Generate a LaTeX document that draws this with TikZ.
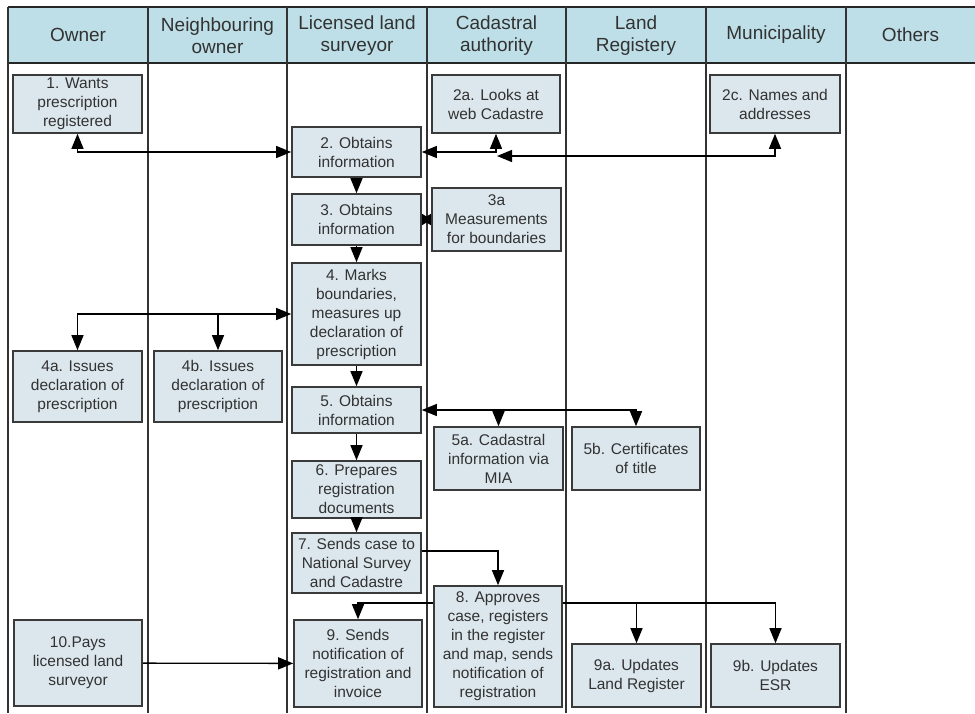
\documentclass[tikz,border=0pt]{standalone}
\usepackage{fontspec}
\setmainfont{Liberation Sans}
\usetikzlibrary{arrows.meta}
\definecolor{headfill}{RGB}{190,223,231}
\definecolor{boxfill}{RGB}{220,231,237}
\definecolor{boxline}{RGB}{58,58,58}
\definecolor{inkgray}{RGB}{50,50,50}
\begin{document}
\begin{tikzpicture}[x=1pt,y=-1pt,
  stepbox/.style={draw=boxline,fill=boxfill,line width=1.6pt,inner sep=0pt,
    align=center,text=inkgray,font=\fontsize{15.5}{19}\selectfont},
  headlabel/.style={align=center,text=inkgray,font=\fontsize{19}{22}\selectfont},
  laneline/.style={draw=black!80,line width=1.3pt},
  link/.style={draw=black,line width=1.3pt,-{Triangle[length=15pt,width=12pt]}},
  twolink/.style={draw=black,line width=1.3pt,{Triangle[length=15pt,width=12pt]}-{Triangle[length=15pt,width=12pt]}}]
\useasboundingbox (0,0) rectangle (975,713);
\fill[white] (0,0) rectangle (975,713);

% header band
\fill[headfill] (8,7) rectangle (975,63);
\draw[line width=2pt,black!85] (8,7) -- (975,7);
\draw[line width=1.6pt,black!85] (8,63) -- (975,63);

% swim lane separators
\foreach \x in {8,148,287,427,566,706,846}
  \draw[laneline] (\x,7) -- (\x,713);

% lane titles
\node[headlabel] (hOwner) at (78,35) {Owner};
\node[headlabel] (hNeigh) at (217.5,36) {Neighbouring\\owner};
\node[headlabel] (hSurv) at (357,36) {Licensed land\\surveyor};
\node[headlabel] (hCad) at (496.5,36) {Cadastral\\authority};
\node[headlabel] (hReg) at (636,36) {Land\\Registery};
\node[headlabel] (hMun) at (776,35) {Municipality};
\node[headlabel] (hOth) at (910.5,35) {Others};

% process steps
\node[stepbox,minimum width=129pt,minimum height=58pt] (b1) at (77.5,104) {1. Wants\\prescription\\registered};
\node[stepbox,minimum width=128pt,minimum height=58pt] (b2a) at (496,104) {2a. Looks at\\web Cadastre};
\node[stepbox,minimum width=130pt,minimum height=58pt] (b2c) at (775,104) {2c. Names and\\addresses};
\node[stepbox,minimum width=129pt,minimum height=50pt] (b2) at (356.5,152) {2. Obtains\\information};
\node[stepbox,minimum width=129pt,minimum height=51pt] (b3) at (356.5,219.5) {3. Obtains\\information};
\node[stepbox,minimum width=129pt,minimum height=63pt] (b3a) at (496.5,219.5) {3a\\Measurements\\for boundaries};
\node[stepbox,minimum width=129pt,minimum height=102pt] (b4) at (356.5,314) {4. Marks\\boundaries,\\measures up\\declaration of\\prescription};
\node[stepbox,minimum width=129pt,minimum height=71pt] (b4a) at (77.5,386.5) {4a. Issues\\declaration of\\prescription};
\node[stepbox,minimum width=128pt,minimum height=71pt] (b4b) at (218,386.5) {4b. Issues\\declaration of\\prescription};
\node[stepbox,minimum width=129pt,minimum height=46pt] (b5) at (356.5,410) {5. Obtains\\information};
\node[stepbox,minimum width=129pt,minimum height=63pt] (b5a) at (498.5,458.5) {5a. Cadastral\\information via\\MIA};
\node[stepbox,minimum width=128pt,minimum height=63pt] (b5b) at (636,458.5) {5b. Certificates\\of title};
\node[stepbox,minimum width=129pt,minimum height=57pt] (b6) at (356.5,489.5) {6. Prepares\\registration\\documents};
\node[stepbox,minimum width=129pt,minimum height=60pt] (b7) at (356.5,563) {7. Sends case to\\National Survey\\and Cadastre};
\node[stepbox,minimum width=128pt,minimum height=121pt] (b8) at (498,646.5) {8. Approves\\case, registers\\in the register\\and map, sends\\notification of\\registration};
\node[stepbox,minimum width=128pt,minimum height=87pt] (b9) at (358,663.5) {9. Sends\\notification of\\registration and\\invoice};
\node[stepbox,minimum width=129pt,minimum height=63pt] (b9a) at (636.5,675.5) {9a. Updates\\Land Register};
\node[stepbox,minimum width=129pt,minimum height=63pt] (b9b) at (775.5,675.5) {9b. Updates\\ESR};
\node[stepbox,minimum width=128pt,minimum height=86pt] (b10) at (78,663) {10.Pays\\licensed land\\surveyor};

% connectors
\coordinate (j2c) at (497,156);
\draw[twolink] (b1.south) |- (b2.west);
\draw[twolink] (b2a.south) |- (b2.east);
\draw[twolink] (b2c.south) |- (j2c);
\draw[link] (b2) -- (b3);
\draw[draw=black,line width=1.3pt,{Triangle[length=9pt,width=11pt]}-{Triangle[length=9pt,width=11pt]}] (b3.east) -- (b3a.west);
\draw[link] (b3) -- (b4);
\draw[twolink] (b4.west) -| (b4a.north);
\draw[link] (b4.west -| b4b.north) -- (b4b.north);
\draw[link] (b4) -- (b5);
\draw[twolink] (b5.east) -| (b5b.north);
\draw[link] (b5.east -| b5a.north) -- (b5a.north);
\draw[link] (b5) -- (b6);
\draw[link] (b6) -- (b7);
\draw[link] ([yshift=12pt]b7.east) -| (b8.north);
\draw[link] ([yshift=43.5pt]b8.west) -| (b9.north);
\draw[link] ([yshift=43.5pt]b8.east) -| (b9b.north);
\draw[link] ([yshift=43.5pt]b8.east -| b9a.north) -- (b9a.north);
\draw[link] (b10) -- (b9);
\end{tikzpicture}
\end{document}
